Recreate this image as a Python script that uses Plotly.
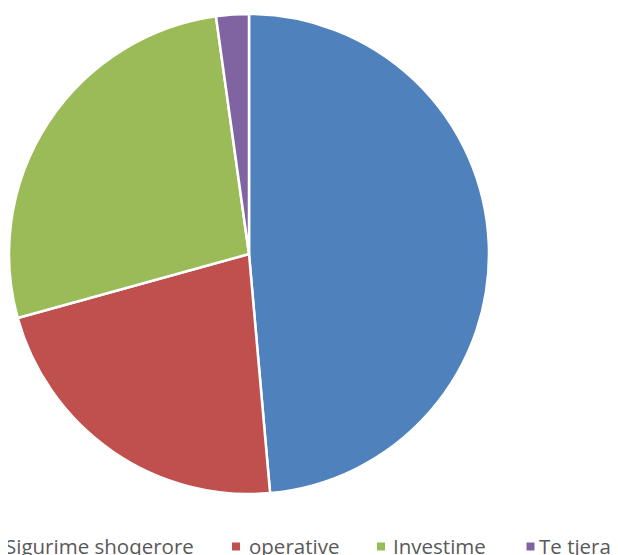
import plotly.graph_objects as go

labels = ["Sigurime shoqerore", "operative", "Investime", "Te tjera"]
values = [48.6, 22.1, 27.1, 2.2]
colors = ["#4F81BD", "#C0504D", "#9BBB59", "#8064A2"]

W, H = 618, 555
OFF = 8  # page body margin offset
cx, cy, r = 249 - OFF, 254 - OFF, 240

fig = go.Figure(go.Pie(
    labels=labels,
    values=values,
    sort=False,
    direction="clockwise",
    rotation=0,
    textinfo="none",
    marker=dict(colors=colors, line=dict(color="white", width=2.5)),
    domain=dict(x=[(cx - r) / W, (cx + r) / W], y=[(H - cy - r) / H, (H - cy + r) / H]),
))

# legend laid out as in the reference (bottom row, partially cut off)
text_x = [3, 247, 391, 537]
mark_x = [-9, 236, 381, 530.5]
text_y = 546
mark_y = 546.5
ann = []
shapes = []
for lab, col, tx, mx in zip(labels, colors, text_x, mark_x):
    ann.append(dict(text=lab, x=(tx - OFF) / W, y=(H - (text_y - OFF)) / H, xref="paper", yref="paper",
                    xanchor="left", yanchor="middle", showarrow=False,
                    font=dict(family="Open Sans, sans-serif", size=20.5, color="#595959")))
    shapes.append(dict(type="rect", xref="paper", yref="paper",
                       x0=(mx - 4 - OFF) / W, x1=(mx + 4 - OFF) / W,
                       y0=(H - (mark_y + 4 - OFF)) / H, y1=(H - (mark_y - 4 - OFF)) / H,
                       fillcolor=col, line=dict(width=0)))

fig.update_layout(
    width=W, height=H,
    margin=dict(l=0, r=0, t=0, b=0, autoexpand=False),
    paper_bgcolor="white",
    showlegend=False,
    annotations=ann,
    shapes=shapes,
)

fig.write_html("out.html")
